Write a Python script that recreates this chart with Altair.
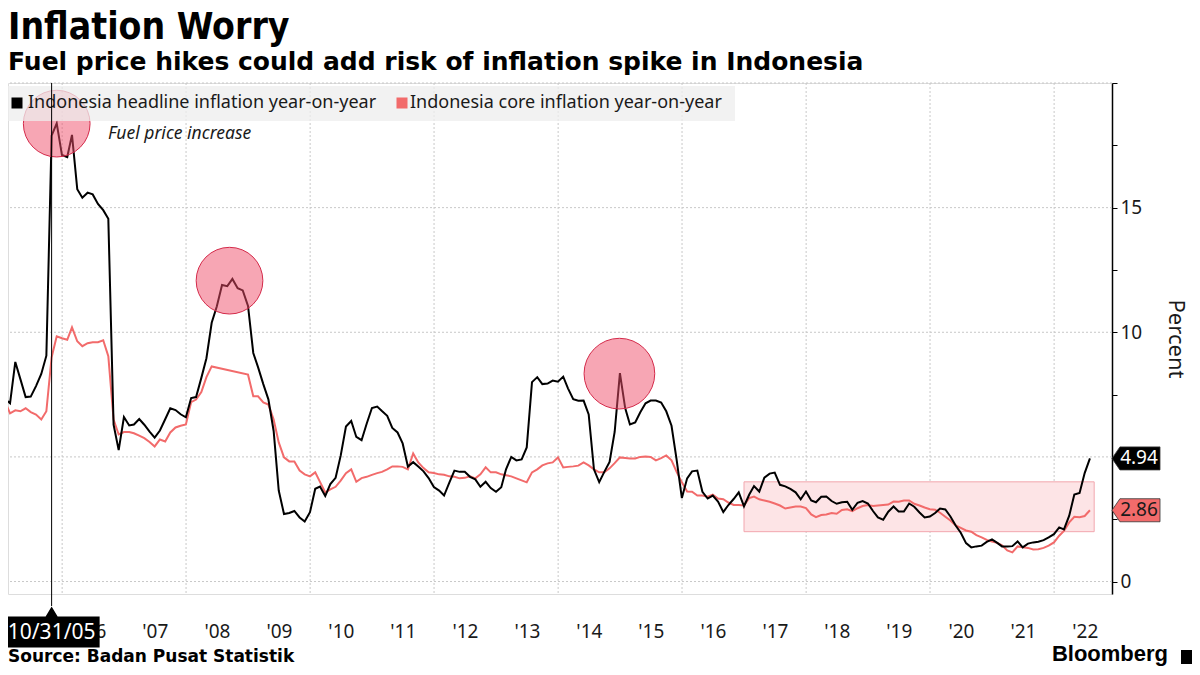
import altair as alt
import pandas as pd

# ---------------- data ----------------
headline = [
    6.40,                                                                          # Dec 2004
    7.32, 7.15, 8.81, 8.12, 7.40, 7.42, 7.84, 8.33, 9.06, 17.89, 18.38, 17.11,     # 2005
    17.03, 17.92, 15.74, 15.40, 15.60, 15.53, 15.15, 14.90, 14.55, 6.29, 5.27, 6.60,  # 2006
    6.26, 6.30, 6.52, 6.29, 6.01, 5.77, 6.06, 6.51, 6.95, 6.88, 6.71, 6.59,        # 2007
    7.36, 7.40, 8.17, 8.96, 10.38, 11.03, 11.90, 11.85, 12.14, 11.77, 11.68, 11.06,  # 2008
    9.17, 8.60, 7.92, 7.31, 6.04, 3.65, 2.71, 2.75, 2.83, 2.57, 2.41, 2.78,        # 2009
    3.72, 3.81, 3.43, 3.91, 4.16, 5.05, 6.22, 6.44, 5.80, 5.67, 6.33, 6.96,        # 2010
    7.02, 6.84, 6.65, 6.16, 5.98, 5.54, 4.61, 4.79, 4.61, 4.42, 4.15, 3.79,        # 2011
    3.65, 3.45, 3.97, 4.45, 4.40, 4.40, 4.20, 4.10, 3.80, 4.00, 3.75, 3.60,        # 2012
    3.78, 4.50, 5.00, 4.86, 4.90, 5.38, 8.00, 8.20, 7.92, 7.94, 8.06, 8.02,        # 2013
    8.22, 7.75, 7.32, 7.25, 7.26, 6.70, 4.50, 3.99, 4.40, 4.80, 6.00, 8.36,        # 2014
    6.96, 6.30, 6.38, 6.79, 7.15, 7.26, 7.26, 7.18, 6.83, 6.25, 4.89, 3.35,        # 2015
    4.14, 4.42, 4.45, 3.60, 3.33, 3.45, 3.21, 2.79, 3.07, 3.31, 3.58, 3.02,        # 2016
    3.49, 3.83, 3.61, 4.17, 4.33, 4.37, 3.88, 3.82, 3.72, 3.58, 3.30, 3.61,        # 2017
    3.25, 3.18, 3.40, 3.41, 3.23, 3.12, 3.18, 3.20, 2.88, 3.16, 3.23, 3.13,        # 2018
    2.82, 2.57, 2.48, 2.80, 3.01, 2.81, 2.81, 3.13, 3.00, 2.77, 2.57, 2.61,        # 2019
    2.75, 2.93, 2.89, 2.61, 2.25, 1.96, 1.54, 1.37, 1.41, 1.44, 1.59, 1.69,        # 2020
    1.55, 1.41, 1.41, 1.42, 1.61, 1.37, 1.52, 1.57, 1.60, 1.66, 1.77, 1.90,        # 2021
    2.17, 2.09, 2.64, 3.49, 3.55, 4.35, 4.94,                                      # 2022
]
core = [
    6.70,                                                                          # Dec 2004
    7.20, 6.75, 6.87, 6.83, 6.95, 6.80, 6.70, 6.50, 6.83, 9.00, 9.84, 9.76,        # 2005
    9.70, 10.20, 9.64, 9.44, 9.56, 9.60, 9.60, 9.68, 9.04, 6.50, 5.90, 6.00,       # 2006
    6.00, 5.95, 5.85, 5.75, 5.60, 5.42, 5.70, 5.62, 5.98, 6.18, 6.25, 6.30,        # 2007
    7.20, 7.30, 7.60, 8.20, 8.63, None, None, None, None, None, None, 8.30,        # 2008
    7.43, 7.43, 7.19, 7.10, 6.50, 5.58, 4.98, 4.82, 4.82, 4.45, 4.30, 4.22,        # 2009
    4.38, 4.00, 3.57, 3.70, 3.80, 4.05, 4.35, 4.50, 4.00, 4.15, 4.20, 4.28,        # 2010
    4.35, 4.40, 4.50, 4.62, 4.62, 4.60, 4.50, 5.14, 4.78, 4.55, 4.38, 4.35,        # 2011
    4.30, 4.28, 4.22, 4.20, 4.14, 4.16, 4.22, 4.14, 4.30, 4.58, 4.38, 4.38,        # 2012
    4.30, 4.26, 4.22, 4.14, 4.06, 3.98, 4.38, 4.50, 4.66, 4.74, 4.78, 4.98,        # 2013
    4.58, 4.60, 4.62, 4.65, 4.78, 4.66, 4.50, 4.38, 4.38, 4.54, 4.75, 4.98,        # 2014
    4.96, 4.94, 4.94, 5.00, 5.02, 5.00, 4.86, 4.95, 5.06, 4.86, 4.40, 3.98,        # 2015
    3.61, 3.60, 3.45, 3.45, 3.40, 3.49, 3.33, 3.30, 3.17, 3.07, 3.07, 3.05,        # 2016
    3.35, 3.41, 3.30, 3.25, 3.20, 3.13, 3.05, 2.93, 2.97, 3.01, 3.01, 2.95,        # 2017
    2.69, 2.58, 2.67, 2.69, 2.75, 2.72, 2.87, 2.90, 2.82, 2.94, 3.03, 3.07,        # 2018
    3.03, 3.05, 3.07, 3.09, 3.21, 3.20, 3.25, 3.25, 3.12, 3.05, 2.97, 2.90,        # 2019
    2.88, 2.76, 2.60, 2.45, 2.25, 2.15, 2.05, 2.00, 1.86, 1.77, 1.67, 1.60,        # 2020
    1.55, 1.45, 1.25, 1.17, 1.41, 1.38, 1.35, 1.29, 1.30, 1.35, 1.44, 1.57,        # 2021
    1.84, 2.03, 2.37, 2.60, 2.58, 2.63, 2.86,                                      # 2022
]
series_names = ["Indonesia headline inflation year-on-year",
                "Indonesia core inflation year-on-year"]
series_colors = ["#000000", "#f26b6b"]

grid_values = [0, 5, 10, 15, 20]
grid_years = [2006, 2008, 2010, 2012, 2014, 2016, 2018, 2020, 2022]
ytick_values = [0, 2.5, 5, 7.5, 10, 12.5, 15, 17.5, 20]
label_years = list(range(2006, 2023))

band_start, band_end = "2016-12-31", "2022-08-25"
band_low, band_high = 2, 4

circle_dates = ["2005-11-30", "2008-09-13", "2014-12-28"]
circle_values = [18.37, 12.07, 8.34]

cross_date = "2005-10-31"
cross_label = "10/31/05"

# ---------------- frames ----------------
try:
    dates = pd.date_range("2004-12-31", periods=len(headline), freq="ME")
except ValueError:
    dates = pd.date_range("2004-12-31", periods=len(headline), freq="M")

hd = pd.DataFrame({"date": dates, "value": headline, "series": series_names[0]})
cd = pd.DataFrame({"date": dates, "value": core, "series": series_names[1]}).dropna()
hgrid = pd.DataFrame({"value": grid_values})
vgrid = pd.DataFrame({"date": pd.to_datetime([f"{y}-01-01" for y in grid_years])})
band = pd.DataFrame({"date": pd.to_datetime([band_start]), "date2": pd.to_datetime([band_end]),
                     "value": [band_low], "value2": [band_high]})
circ = pd.DataFrame({"date": pd.to_datetime(circle_dates), "value": circle_values})
cross = pd.DataFrame({"date": pd.to_datetime([cross_date]), "label": [cross_label]})
tags = pd.DataFrame({"value": [headline[-1], core[-1]],
                     "label": [f"{headline[-1]:.2f}", f"{core[-1]:.2f}"],
                     "series": series_names})
one = pd.DataFrame({"k": [0]})

W, H = 1104, 511
FONT = "Noto Sans"
TFONT = "DejaVu Sans Condensed, DejaVu Sans"
SFONT = "DejaVu Sans"

xscale = alt.Scale(domain=[alt.DateTime(year=2005, month=2, date=16),
                           alt.DateTime(year=2022, month=12, date=8)])
yscale = alt.Scale(domain=[-0.5, 20], nice=False, zero=False)
cscale = alt.Scale(domain=series_names, range=series_colors)

xaxis = alt.Axis(values=[alt.DateTime(year=y, month=7, date=1) for y in label_years],
                 labelExpr="\"'\" + timeFormat(datum.value, '%y')",
                 grid=False, ticks=False, domain=False, title=None,
                 labelFont=FONT, labelFontSize=19, labelColor="#1a1a1a",
                 labelPadding=28, labelOverlap=False, labelFlush=False)
yaxis = alt.Axis(orient="right", values=ytick_values,
                 labelExpr="(datum.value === 0 || datum.value === 10 || datum.value === 15) ? datum.label : ''",
                 grid=False, domainColor="#000000", domainWidth=1.5,
                 tickColor="#000000", tickSize=5, tickWidth=1,
                 labelFont=FONT, labelFontSize=19, labelColor="#1a1a1a", labelPadding=3,
                 title="Percent", titleAngle=90, titleFont=FONT, titleFontSize=22,
                 titleFontWeight="normal", titleColor="#1a1a1a", titlePadding=22)

X = alt.X("date:T", scale=xscale, axis=xaxis)
Y = alt.Y("value:Q", scale=yscale, axis=yaxis)

layers = []
layers.append(alt.Chart(hgrid).mark_rule(color="#c8c8c8", strokeDash=[2, 2], strokeWidth=1).encode(y=Y))
layers.append(alt.Chart(vgrid).mark_rule(color="#c8c8c8", strokeDash=[2, 2], strokeWidth=1).encode(x=X))
layers.append(alt.Chart(band).mark_rect(fill="#fde4e6", stroke="#f2a6ae", strokeWidth=1).encode(
    x=X, x2="date2:T", y=Y, y2="value2:Q"))
layers.append(alt.Chart(cd).mark_line(strokeWidth=2, clip=True).encode(
    x=X, y=Y, color=alt.Color("series:N", scale=cscale, legend=None)))
layers.append(alt.Chart(hd).mark_line(strokeWidth=2, clip=True).encode(
    x=X, y=Y, color=alt.Color("series:N", scale=cscale, legend=None)))
layers.append(alt.Chart(circ).mark_point(shape="circle", filled=True, fill="#f04e6a", fillOpacity=0.5,
                                          stroke="#d42a4a", strokeWidth=1, strokeOpacity=1, opacity=1).encode(
    x=X, y=Y, size=alt.condition("year(datum.date) == 2014", alt.value(5000), alt.value(4450))))

# legend
layers.append(alt.Chart(one).mark_rect(fill="#eeeeee", opacity=0.75).encode(
    x=alt.value(0), x2=alt.value(727), y=alt.value(3), y2=alt.value(38)))
layers.append(alt.Chart(one).mark_square(size=121, color=series_colors[0], opacity=1).encode(
    x=alt.value(9), y=alt.value(20)))
layers.append(alt.Chart(one).mark_square(size=121, color=series_colors[1], opacity=1).encode(
    x=alt.value(394), y=alt.value(20)))
layers.append(alt.Chart(one).mark_text(text=series_names[0], align="left", baseline="middle",
                                        font=FONT, fontSize=18, color="#1a1a1a").encode(
    x=alt.value(20), y=alt.value(20)))
layers.append(alt.Chart(one).mark_text(text=series_names[1], align="left", baseline="middle",
                                        font=FONT, fontSize=18, color="#1a1a1a").encode(
    x=alt.value(402), y=alt.value(20)))
layers.append(alt.Chart(one).mark_text(text="Fuel price increase", align="left", baseline="middle",
                                        font=FONT, fontSize=17.5, fontStyle="italic", color="#1a1a1a").encode(
    x=alt.value(100), y=alt.value(51)))

# crosshair
layers.append(alt.Chart(cross).mark_rule(color="#000000", strokeWidth=1).encode(
    x=X, y=alt.value(0), y2=alt.value(523)))
box_path = "M -0.96 -0.31 L -0.12 -0.31 L 0 -0.51 L 0.12 -0.31 L 0.96 -0.31 L 0.96 0.31 L -0.96 0.31 Z"
layers.append(alt.Chart(cross).mark_point(shape=box_path, size=10000, filled=True, fill="#000000",
                                           opacity=1, strokeWidth=0).encode(x=X, y=alt.value(549)))
layers.append(alt.Chart(cross).mark_text(align="center", baseline="middle", font=FONT, fontSize=21,
                                          color="#ffffff").encode(x=X, y=alt.value(550), text="label:N"))

# end tags
tag_path = "M -1 0 L -0.67 -0.48 L 1 -0.48 L 1 0.48 L -0.67 0.48 Z"
layers.append(alt.Chart(tags).mark_point(shape=tag_path, size=2304, filled=True, opacity=1,
                                          stroke="#333333", strokeWidth=0.8).encode(
    x=alt.value(W + 24), y=Y, fill=alt.Color("series:N", scale=cscale, legend=None)))
layers.append(alt.Chart(tags).mark_text(align="center", baseline="middle", font=FONT, fontSize=19).encode(
    x=alt.value(W + 27), y=Y, text="label:N",
    color=alt.condition(alt.datum.series == series_names[0], alt.value("#ffffff"), alt.value("#1a1a1a"))))

# titles and footer
layers.append(alt.Chart(one).mark_text(text="Inflation Worry", align="left", baseline="alphabetic",
                                        font=TFONT, fontSize=37, fontWeight="bold", color="#000000").encode(
    x=alt.value(0), y=alt.value(-44)))
layers.append(alt.Chart(one).mark_text(text="Fuel price hikes could add risk of inflation spike in Indonesia",
                                        align="left", baseline="alphabetic",
                                        font=SFONT, fontSize=25, fontWeight="bold", color="#000000").encode(
    x=alt.value(0), y=alt.value(-13)))
layers.append(alt.Chart(one).mark_text(text="Source: Badan Pusat Statistik", align="left", baseline="alphabetic",
                                        font=SFONT, fontSize=17, fontWeight="bold", color="#000000").encode(
    x=alt.value(0), y=alt.value(579)))
layers.append(alt.Chart(one).mark_text(text="Bloomberg", align="right", baseline="alphabetic",
                                        font="Liberation Sans", fontSize=22, fontWeight="bold",
                                        color="#000000").encode(
    x=alt.value(1160), y=alt.value(578)))
layers.append(alt.Chart(one).mark_square(size=196, color="#000000", opacity=1, cornerRadius=3).encode(
    x=alt.value(1180), y=alt.value(574)))

chart = alt.layer(*layers).properties(
    width=W, height=H,
    autosize=alt.AutoSizeParams(type="none"),
    padding={"left": 0, "top": 75, "right": 80, "bottom": 73},
).configure_view(stroke=None).configure(background="#ffffff")

chart.save("out.html", embed_options={"renderer": "svg", "actions": False})
